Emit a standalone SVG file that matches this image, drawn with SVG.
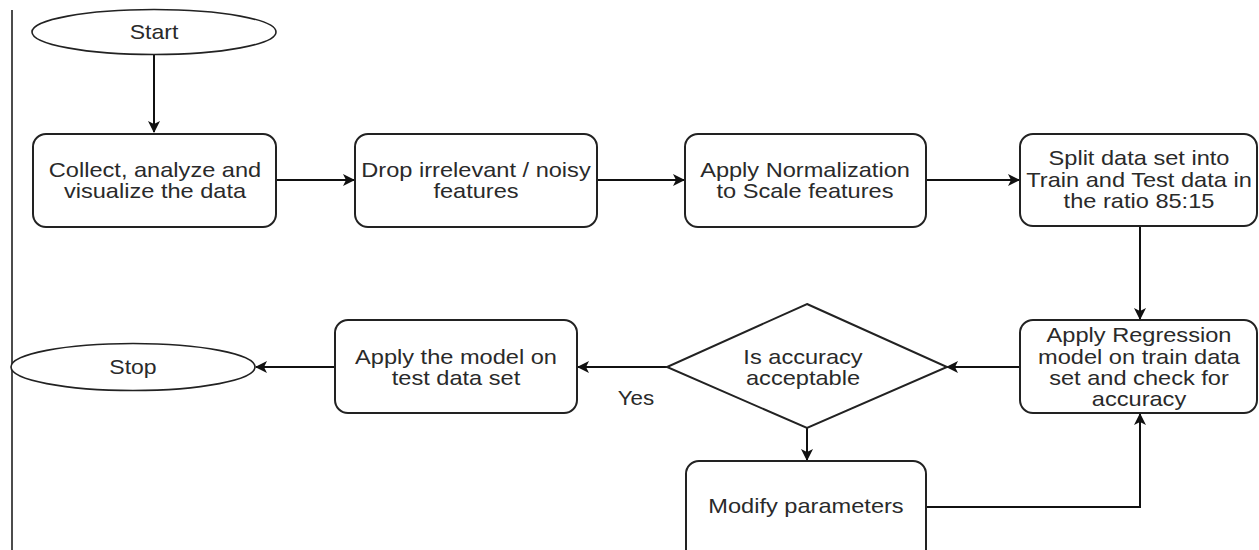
<svg xmlns="http://www.w3.org/2000/svg" width="1259" height="550" viewBox="0 0 1259 550">
<style>
.shape{fill:#fff;stroke:#222;stroke-width:2}
.term{fill:#fff;stroke:#222;stroke-width:1.6}
.lbl{font-family:"Liberation Sans",Arial,sans-serif;font-size:20px;fill:#2a2a2a;text-anchor:middle}
.edge{fill:none;stroke:#111;stroke-width:2}
</style>
<defs>
<marker id="arr" viewBox="0 0 12 12" refX="11" refY="6" markerWidth="12" markerHeight="12" markerUnits="userSpaceOnUse" orient="auto">
<path d="M0,0 L12,6 L0,12 L3,6 z" fill="#111"/>
</marker>
</defs>
<rect width="1259" height="550" fill="#fff"/>
<line x1="12" y1="10" x2="12" y2="550" stroke="#111" stroke-width="1.5"/>

<g id="edges">
<line class="edge" x1="154" y1="55" x2="154" y2="132" marker-end="url(#arr)"/>
<line class="edge" x1="276" y1="180" x2="354" y2="180" marker-end="url(#arr)"/>
<line class="edge" x1="597" y1="180" x2="684" y2="180" marker-end="url(#arr)"/>
<line class="edge" x1="926" y1="180" x2="1019" y2="180" marker-end="url(#arr)"/>
<line class="edge" x1="1140" y1="226" x2="1140" y2="319" marker-end="url(#arr)"/>
<line class="edge" x1="1019" y1="367" x2="947" y2="367" marker-end="url(#arr)"/>
<line class="edge" x1="667" y1="367" x2="578" y2="367" marker-end="url(#arr)"/>
<line class="edge" x1="335" y1="367" x2="256" y2="367" marker-end="url(#arr)"/>
<line class="edge" x1="807" y1="428" x2="807" y2="460" marker-end="url(#arr)"/>
<polyline class="edge" points="926,507 1140,507 1140,414" marker-end="url(#arr)"/>
<text class="lbl" transform="translate(636,405) scale(1.12 1)">Yes</text>
</g>

<g id="start">
<ellipse class="term" cx="154" cy="32" rx="122" ry="22.5"/>
<text class="lbl" transform="translate(154,39) scale(1.15 1)">Start</text>
</g>

<g id="collect">
<rect class="shape" x="33" y="134" width="243" height="93" rx="13"/>
<text class="lbl" transform="translate(155,180) scale(1.18 1)"><tspan x="0" y="-3.5">Collect, analyze and</tspan><tspan x="0" y="18">visualize the data</tspan></text>
</g>

<g id="drop">
<rect class="shape" x="355" y="134" width="242" height="93" rx="13"/>
<text class="lbl" transform="translate(476,180) scale(1.18 1)"><tspan x="0" y="-3.5">Drop irrelevant / noisy</tspan><tspan x="0" y="18">features</tspan></text>
</g>

<g id="normalize">
<rect class="shape" x="685" y="134" width="241" height="93" rx="13"/>
<text class="lbl" transform="translate(805,180) scale(1.18 1)"><tspan x="0" y="-3.5">Apply Normalization</tspan><tspan x="0" y="18">to Scale features</tspan></text>
</g>

<g id="split">
<rect class="shape" x="1020" y="134" width="237" height="92" rx="13"/>
<text class="lbl" transform="translate(1139,180) scale(1.18 1)"><tspan x="0" y="-15">Split data set into</tspan><tspan x="0" y="6.5">Train and Test data in</tspan><tspan x="0" y="28">the ratio 85:15</tspan></text>
</g>

<g id="regression">
<rect class="shape" x="1020" y="320" width="237" height="93" rx="13"/>
<text class="lbl" transform="translate(1139,367) scale(1.18 1)"><tspan x="0" y="-25">Apply Regression</tspan><tspan x="0" y="-3.5">model on train data</tspan><tspan x="0" y="18">set and check for</tspan><tspan x="0" y="39.5">accuracy</tspan></text>
</g>

<g id="decision">
<polygon class="shape" points="807,304 947,367 807,428 667,367"/>
<text class="lbl" transform="translate(803,367) scale(1.18 1)"><tspan x="0" y="-3.5">Is accuracy</tspan><tspan x="0" y="18">acceptable</tspan></text>
</g>

<g id="apply-test">
<rect class="shape" x="335" y="320" width="242" height="93" rx="13"/>
<text class="lbl" transform="translate(456,367) scale(1.18 1)"><tspan x="0" y="-3.5">Apply the model on</tspan><tspan x="0" y="18">test data set</tspan></text>
</g>

<g id="stop">
<ellipse class="term" cx="133" cy="367" rx="122" ry="23.5"/>
<text class="lbl" transform="translate(133,374) scale(1.15 1)">Stop</text>
</g>

<g id="modify">
<rect class="shape" x="686" y="461" width="240" height="110" rx="13"/>
<text class="lbl" transform="translate(806,513) scale(1.18 1)">Modify parameters</text>
</g>
</svg>
